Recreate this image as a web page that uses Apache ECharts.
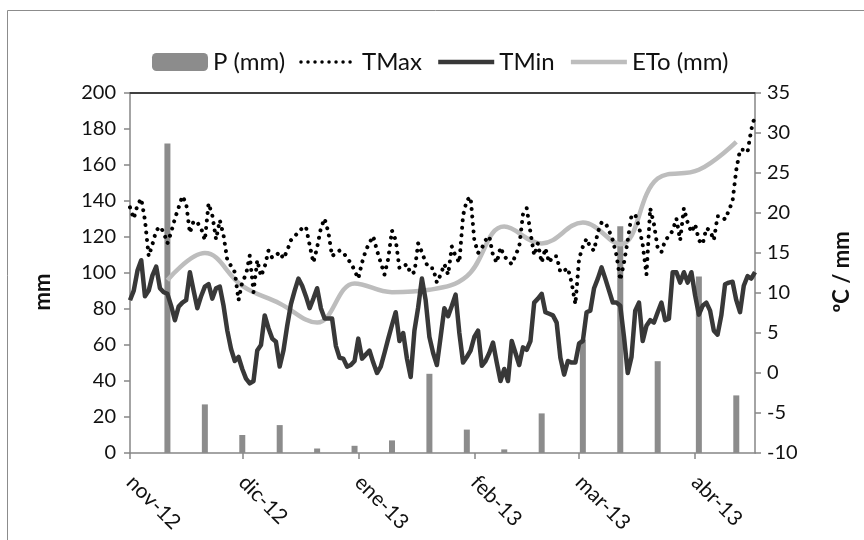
<!DOCTYPE html>
<html><head><meta charset="utf-8">
<script src="https://cdn.jsdelivr.net/npm/echarts@6/dist/echarts.min.js"></script>
<style>html,body{margin:0;padding:0;background:#fff}#c{width:864px;height:540px}</style>
</head><body><div id="c"></div>
<script>
// x categories: daily, 1 Nov 2012 .. 17 Apr 2013
const startDate = [2012, 10, 1];
const nDays = 168;
const monthTickLabels = ['nov-12','dic-12','ene-13','feb-13','mar-13','abr-13'];
const monthTickIdx = [0, 30, 61, 92, 120, 151];

// daily temperatures (ºC)
const tmax = [20.7,19.3,21.0,21.8,19.1,14.6,16.1,17.8,18.3,17.6,16.2,17.6,19.3,20.7,22.1,21.2,17.5,19.0,18.8,18.1,
16.6,21.2,19.7,16.7,19.1,17.2,14.1,13.4,12.6,9.1,11.4,12.3,14.7,10.1,14.1,12.1,13.3,15.3,14.4,14.7,
15.1,14.3,15.3,16.6,17.1,17.6,18.1,18.3,16.0,13.8,15.7,18.1,19.3,17.6,14.6,15.0,15.3,15.1,14.3,13.8,
12.8,11.8,13.8,15.3,16.3,17.1,15.3,13.8,12.3,14.3,17.8,16.6,13.1,13.3,13.6,12.4,12.6,16.2,15.1,13.8,
13.1,13.1,11.3,12.3,13.6,12.3,15.8,14.6,13.8,19.7,21.6,22.0,16.6,15.0,15.6,16.6,17.1,14.7,13.8,15.7,
14.6,14.1,13.6,14.7,15.8,19.8,20.6,17.6,14.7,16.2,13.8,15.6,13.8,14.6,14.6,12.6,12.8,13.1,11.3,8.6,
14.3,15.8,16.8,15.7,15.3,17.6,18.8,18.8,17.8,16.6,14.7,11.6,13.8,16.6,19.7,19.8,18.3,16.0,12.3,20.6,
18.6,15.6,15.1,16.6,17.1,17.8,19.3,16.6,20.6,18.8,17.6,18.6,16.6,16.1,18.1,17.8,16.6,19.6,19.6,19.2,
20.3,21.5,25.4,27.9,27.9,27.6,30.4,32.2];
const tmin = [9.1,10.3,12.8,14.1,9.6,10.3,12.2,13.3,10.6,10.1,9.9,8.4,6.6,8.3,8.8,9.1,12.6,10.3,8.1,9.6,
10.8,11.1,9.3,10.6,10.8,8.4,5.3,3.0,1.5,2.0,0.5,-0.7,-1.3,-1.0,2.8,3.5,7.2,5.6,4.3,3.9,
0.8,2.8,5.9,8.6,10.3,11.8,10.9,9.6,8.1,9.3,10.6,8.1,6.8,6.8,6.8,3.4,1.9,1.8,0.8,1.0,
1.5,4.3,1.8,2.3,2.8,1.3,0.0,0.8,2.5,4.3,6.0,7.6,4.0,5.0,1.8,-0.5,5.3,8.2,11.8,9.1,
4.5,2.5,1.0,4.5,8.1,7.1,8.4,9.8,5.0,1.3,2.0,2.8,4.5,5.3,0.9,1.5,2.5,3.8,1.3,-1.0,
0.5,-1.0,4.0,2.5,1.0,3.2,2.9,4.0,8.8,9.3,9.9,7.6,7.4,7.2,6.3,1.9,-0.2,1.5,1.3,1.3,
3.7,4.0,7.6,7.8,10.6,11.8,13.2,11.8,10.3,8.8,8.8,8.4,4.5,0.0,2.0,7.8,8.8,4.0,5.9,6.6,
6.3,7.6,8.8,6.6,6.8,12.6,12.6,11.3,12.6,11.3,12.6,9.7,7.3,8.4,8.8,7.8,5.3,4.8,7.2,11.1,
11.3,11.4,9.1,7.6,10.9,12.1,11.8,12.6];

// ten-day values (placed at these day indices)
const dekadIdx = [10,20,30,40,50,60,70,80,90,100,110,121,131,141,152,162];
const precip = [172,27,10,15.5,2.5,4,7,44,13,2,22,63,126,51,98,32];   // mm
const eto = [11.6,15.0,10.9,8.7,6.3,11.2,10.1,10.4,12.1,18.3,16.2,18.8,16.1,24.3,25.4,28.9]; // mm

// build category list
const cats = [];
for (let i = 0; i < nDays; i++) {
  const d = new Date(startDate[0], startDate[1], startDate[2] + i);
  cats.push(d.getFullYear() + '-' + (d.getMonth() + 1) + '-' + d.getDate());
}
const pSeries = new Array(nDays).fill(null);
const etoSeries = new Array(nDays).fill(null);
dekadIdx.forEach((k, j) => { pSeries[k] = precip[j]; etoSeries[k] = eto[j]; });
const isMonthStart = (idx) => monthTickIdx.indexOf(idx) >= 0;

const FONT = 'Lato';
const TXT = '#111';
const chart = echarts.init(document.getElementById('c'), null, {renderer: 'canvas'});
chart.setOption({
  animation: false,
  backgroundColor: '#fff',
  textStyle: {fontFamily: FONT},
  grid: {left: 130, right: 109, top: 93, bottom: 87, containLabel: false},
  legend: {
    top: 45, left: 147,
    itemWidth: 56, itemHeight: 18, itemGap: 14,
    textStyle: {fontFamily: FONT, fontSize: 24, color: TXT},
    data: [
      {name: 'P (mm)'},
      {name: 'TMax', itemStyle: {opacity: 0}, lineStyle: {width: 3.5, type: [0.01, 7], cap: 'round', color: '#000'}},
      {name: 'TMin', itemStyle: {opacity: 0}, lineStyle: {width: 4.5, color: '#383838'}},
      {name: 'ETo (mm)', itemStyle: {opacity: 0}, lineStyle: {width: 4.5, color: '#bdbdbd'}}
    ]
  },
  xAxis: [{
    type: 'category', data: cats, boundaryGap: false,
    axisLine: {onZero: false, lineStyle: {color: '#868686', width: 1.5}},
    axisTick: {show: true, interval: (i) => isMonthStart(i), length: 6, lineStyle: {color: '#868686', width: 1.5}},
    axisLabel: {
      interval: (i) => isMonthStart(i), rotate: -45, margin: 26,
      fontFamily: FONT, fontSize: 21, color: TXT,
      formatter: (v, i) => monthTickLabels[monthTickIdx.indexOf(i)] || ''
    },
    splitLine: {show: false}
  }, {
    type: 'category', data: cats, boundaryGap: false, position: 'top',
    axisLine: {onZero: false, lineStyle: {color: '#404040', width: 2}},
    axisTick: {show: false}, axisLabel: {show: false}, splitLine: {show: false}
  }],
  yAxis: [{
    type: 'value', min: 0, max: 200, interval: 20, position: 'left',
    axisLine: {show: true, lineStyle: {color: '#868686', width: 1.5}},
    axisTick: {show: true, length: 6, lineStyle: {color: '#868686', width: 1.5}},
    axisLabel: {fontFamily: FONT, fontSize: 20, color: TXT, margin: 14},
    splitLine: {show: false}
  }, {
    type: 'value', min: -10, max: 35, interval: 5, position: 'right',
    axisLine: {show: true, lineStyle: {color: '#868686', width: 1.5}},
    axisTick: {show: true, length: 6, lineStyle: {color: '#868686', width: 1.5}},
    axisLabel: {fontFamily: FONT, fontSize: 20, color: TXT, margin: 12},
    splitLine: {show: false}
  }],
  series: [{
    name: 'P (mm)', type: 'bar', xAxisIndex: 0, yAxisIndex: 0,
    data: pSeries, barWidth: 6, itemStyle: {color: '#8c8c8c'}, z: 1
  }, {
    name: 'TMax', type: 'line', yAxisIndex: 1, data: tmax,
    showSymbol: false, symbol: 'none', itemStyle: {color: '#000'},
    lineStyle: {color: '#000', width: 4, type: [0.01, 7.5], cap: 'round'}, z: 4
  }, {
    name: 'TMin', type: 'line', yAxisIndex: 1, data: tmin,
    showSymbol: false, symbol: 'none', itemStyle: {color: '#383838'},
    lineStyle: {color: '#383838', width: 4.5, join: 'round'}, z: 3
  }, {
    name: 'ETo (mm)', type: 'line', yAxisIndex: 1, data: etoSeries,
    connectNulls: true, smooth: 0.4, showSymbol: false, symbol: 'none', itemStyle: {color: '#bdbdbd'},
    lineStyle: {color: '#bdbdbd', width: 4.5}, z: 2
  }],
  graphic: [{
    type: 'polyline', shape: {points: [[7.5, 540], [7.5, 10.5], [864, 10.5]]},
    style: {stroke: '#8c8c8c', lineWidth: 1, fill: null}, silent: true
  }, {
    type: 'text', x: 43, y: 292, rotation: Math.PI / 2,
    style: {text: 'mm', fontFamily: FONT, fontSize: 22, fontWeight: 'bold', fill: TXT, align: 'center', verticalAlign: 'middle', textAlign: 'center', textVerticalAlign: 'middle'}
  }, {
    type: 'text', x: 842, y: 272, rotation: Math.PI / 2,
    style: {text: 'ºC / mm', fontFamily: FONT, fontSize: 22, fontWeight: 'bold', fill: TXT, align: 'center', verticalAlign: 'middle', textAlign: 'center', textVerticalAlign: 'middle'}
  }]
});
</script></body></html>
